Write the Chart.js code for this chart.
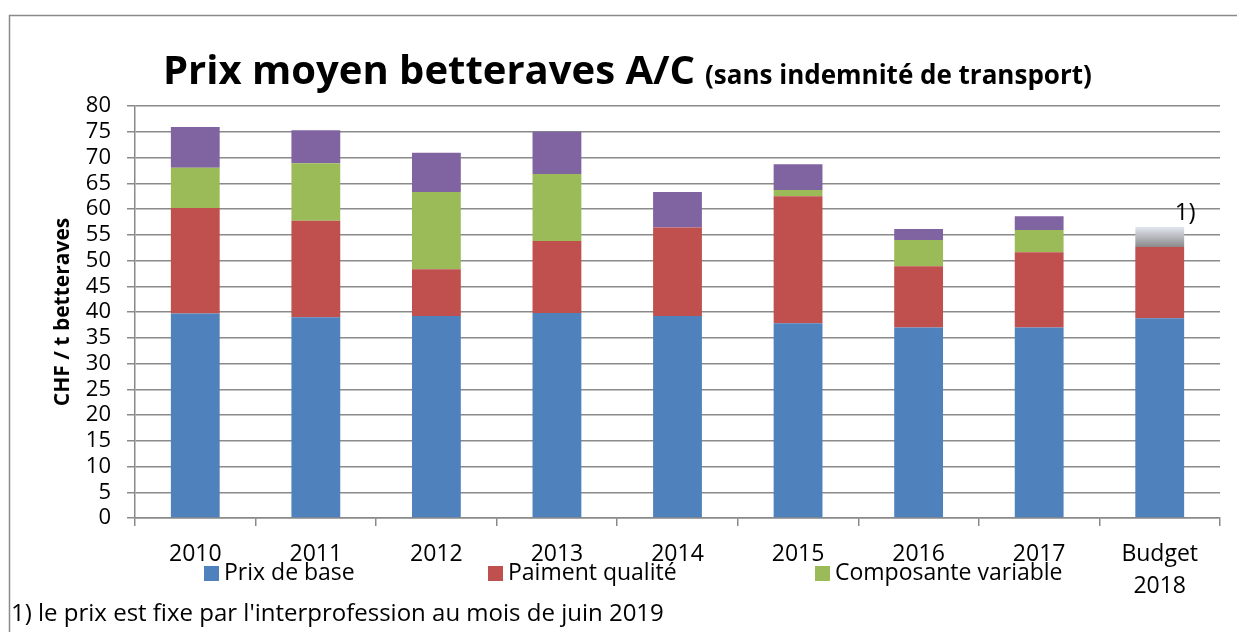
<!DOCTYPE html>
<html>
<head>
<meta charset="utf-8">
<script src="https://cdn.jsdelivr.net/npm/chart.js@4/dist/chart.umd.min.js"></script>
<style>
    html, body { margin: 0; padding: 0; background: #fff; }
    #wrap { width: 1237px; height: 632px; position: relative; }
</style>
</head>
<body>
<div id="wrap"><canvas id="prixChart" width="1237" height="632"></canvas></div>
<script>
// Categories and series (CHF / t betteraves)
const years = ['2010', '2011', '2012', '2013', '2014', '2015', '2016', '2017', ['Budget', '2018']];
const prixBase = [39.7, 39.0, 39.2, 39.8, 39.2, 37.8, 37.0, 37.0, 38.8];
const paiementQualite = [20.5, 18.7, 9.1, 14.0, 17.2, 24.7, 11.9, 14.6, 13.8];
const composanteVariable = [7.8, 11.2, 15.0, 13.0, 0, 1.2, 5.1, 4.3, 0];
const supplement = [7.9, 6.4, 7.6, 8.2, 6.9, 5.0, 2.1, 2.7, 0];
const budgetOuvert = [0, 0, 0, 0, 0, 0, 0, 0, 3.9];
const yTicks = [0, 5, 10, 15, 20, 25, 30, 35, 40, 45, 50, 55, 60, 65, 70, 75, 80];

const FONT = "'Open Sans', sans-serif";
const legendItems = [
    { text: 'Prix de base', color: '#4f81bd', x: 204 },
    { text: 'Paiment qualité', color: '#c0504d', x: 488 },
    { text: 'Composante variable', color: '#9bbb59', x: 815 }
];

// gradient for the open budget part
function budgetFill(context) {
    const chart = context.chart;
    if (!chart.chartArea) return '#bbbbbb';
    const y = chart.scales.y;
    const i = years.length - 1;
    const base = prixBase[i] + paiementQualite[i];
    const g = chart.ctx.createLinearGradient(0, y.getPixelForValue(base + budgetOuvert[i]), 0, y.getPixelForValue(base));
    g.addColorStop(0, '#e1e6f0');
    g.addColorStop(1, '#8a8a8a');
    return g;
}

const decorations = {
    id: 'decorations',
    afterDraw(chart) {
        const ctx = chart.ctx;
        ctx.save();
        // outer frame
        ctx.strokeStyle = '#8a8a8a';
        ctx.lineWidth = 1.5;
        ctx.beginPath();
        ctx.moveTo(9.5, 640);
        ctx.lineTo(9.5, 15.5);
        ctx.lineTo(1240, 15.5);
        ctx.stroke();

        // title
        ctx.fillStyle = '#000';
        ctx.textBaseline = 'alphabetic';
        ctx.textAlign = 'left';
        ctx.font = 'bold 40px ' + FONT;
        const main = 'Prix moyen betteraves A/C';
        ctx.fillText(main, 163, 84);
        const w = ctx.measureText(main).width;
        ctx.font = 'bold 26px ' + FONT;
        ctx.fillText('(sans indemnité de transport)', 163 + w + 10, 84);

        // y axis title
        ctx.save();
        ctx.translate(63, 312);
        ctx.rotate(-Math.PI / 2);
        ctx.textAlign = 'center';
        ctx.textBaseline = 'middle';
        ctx.font = 'bold 21px ' + FONT;
        ctx.fillText('CHF / t betteraves', 0, 0);
        ctx.restore();

        // footnote marker above budget bar
        const y = chart.scales.y;
        const x = chart.scales.x;
        const i = years.length - 1;
        const top = prixBase[i] + paiementQualite[i] + budgetOuvert[i];
        ctx.font = '24px ' + FONT;
        ctx.textAlign = 'left';
        ctx.textBaseline = 'bottom';
        ctx.fillText('1)', x.getPixelForValue(i) + 15, y.getPixelForValue(top) - 2);

        // legend
        ctx.font = '23px ' + FONT;
        ctx.textBaseline = 'middle';
        legendItems.forEach(item => {
            ctx.fillStyle = item.color;
            ctx.fillRect(item.x, 566, 15, 15);
            ctx.fillStyle = '#000';
            ctx.fillText(item.text, item.x + 20, 573);
        });

        // footnote
        ctx.font = '24px ' + FONT;
        ctx.textBaseline = 'middle';
        ctx.fillText("1) le prix est fixe par l'interprofession au mois de juin 2019", 11, 614);
        ctx.restore();
    }
};

const ctx = document.getElementById('prixChart').getContext('2d');
new Chart(ctx, {
    type: 'bar',
    data: {
        labels: years,
        datasets: [{
            label: 'Prix de base',
            data: prixBase,
            backgroundColor: '#4f81bd'
        }, {
            label: 'Paiment qualité',
            data: paiementQualite,
            backgroundColor: '#c0504d'
        }, {
            label: 'Composante variable',
            data: composanteVariable,
            backgroundColor: '#9bbb59'
        }, {
            label: 'Supplément',
            data: supplement,
            backgroundColor: '#8064a2'
        }, {
            label: 'Budget ouvert',
            data: budgetOuvert,
            backgroundColor: budgetFill
        }]
    },
    options: {
        responsive: false,
        animation: false,
        events: [],
        datasets: {
            bar: { categoryPercentage: 1, barPercentage: 0.405, borderWidth: 0 }
        },
        layout: { padding: { left: 0, right: 17, top: 106, bottom: 0 } },
        plugins: {
            legend: { display: false },
            title: { display: false },
            tooltip: { enabled: false }
        },
        scales: {
            x: {
                stacked: true,
                afterFit: scale => { scale.height = 114; },
                grid: {
                    display: true,
                    offset: true,
                    drawOnChartArea: false,
                    drawTicks: true,
                    tickLength: 8,
                    color: '#8a8a8a',
                    lineWidth: 1.5
                },
                border: { display: true, color: '#8a8a8a', width: 1.5 },
                ticks: {
                    color: '#000',
                    padding: 12,
                    maxRotation: 0,
                    autoSkip: false,
                    font: { family: FONT, size: 23, lineHeight: 1.4 }
                }
            },
            y: {
                stacked: true,
                min: 0,
                max: 80,
                afterFit: scale => { scale.width = 135; },
                afterBuildTicks: scale => { scale.ticks = yTicks.map(v => ({ value: v })); },
                grid: {
                    color: '#8a8a8a',
                    lineWidth: 1.5,
                    tickLength: 8
                },
                border: { display: true, color: '#8a8a8a', width: 1.5 },
                ticks: {
                    color: '#000',
                    padding: 16,
                    autoSkip: false,
                    font: { family: FONT, size: 22 }
                }
            }
        }
    },
    plugins: [decorations]
});
</script>
</body>
</html>
